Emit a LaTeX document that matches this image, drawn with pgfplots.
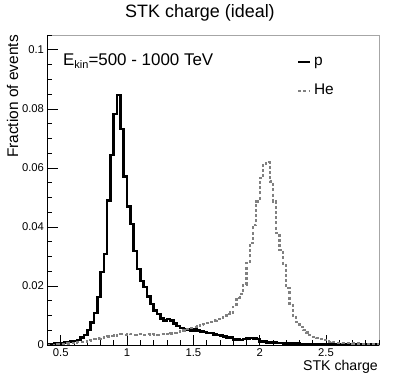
\documentclass[border=0pt]{standalone}
\usepackage{fontspec}
\setmainfont{Liberation Sans}
\usepackage{pgfplots}
\usepackage{pgfplotstable}
\pgfplotsset{compat=1.18}

% bin left edge, fraction (bins of 0.025)
\pgfplotstableread{
x y
0.400 0.0002
0.425 0.0004
0.450 0.0005
0.475 0.0006
0.500 0.0007
0.525 0.0009
0.550 0.0010
0.575 0.0011
0.600 0.0014
0.625 0.0017
0.650 0.0025
0.675 0.0034
0.700 0.0051
0.725 0.0077
0.750 0.0108
0.775 0.0162
0.800 0.0247
0.825 0.0308
0.850 0.0489
0.875 0.0644
0.900 0.0783
0.925 0.0847
0.950 0.0731
0.975 0.0571
1.000 0.0469
1.025 0.0410
1.050 0.0319
1.075 0.0258
1.100 0.0217
1.125 0.0197
1.150 0.0164
1.175 0.0139
1.200 0.0116
1.225 0.0105
1.250 0.0089
1.275 0.0083
1.300 0.0088
1.325 0.0082
1.350 0.0072
1.375 0.0065
1.400 0.0057
1.425 0.0053
1.450 0.0052
1.475 0.0049
1.500 0.0053
1.525 0.0050
1.550 0.0046
1.575 0.0044
1.600 0.0041
1.625 0.0040
1.650 0.0036
1.675 0.0034
1.700 0.0032
1.725 0.0029
1.750 0.0025
1.775 0.0026
1.800 0.0019
1.825 0.0018
1.850 0.0017
1.875 0.0020
1.900 0.0022
1.925 0.0024
1.950 0.0023
1.975 0.0020
2.000 0.0012
2.025 0.0011
2.050 0.0009
2.075 0.0009
2.100 0.0008
2.125 0.0007
2.150 0.0007
2.175 0.0006
2.200 0.0006
2.225 0.0005
2.250 0.0005
2.275 0.0005
2.300 0.0004
2.325 0.0004
2.350 0.0004
2.375 0.0004
2.400 0.0004
2.425 0.0003
2.450 0.0004
2.475 0.0003
2.500 0.0003
2.525 0.0003
2.550 0.0003
2.575 0.0003
2.600 0.0003
2.625 0.0003
2.650 0.0003
2.675 0.0003
2.700 0.0003
2.725 0.0003
2.750 0.0003
2.775 0.0003
2.800 0.0003
2.825 0.0003
2.850 0.0003
2.875 0.0003
2.900 0.0003
}\protondata

\pgfplotstableread{
x y
0.400 0.0000
0.425 0.0000
0.450 0.0001
0.475 0.0002
0.500 0.0003
0.525 0.0004
0.550 0.0005
0.575 0.0006
0.600 0.0008
0.625 0.0009
0.650 0.0010
0.675 0.0012
0.700 0.0014
0.725 0.0017
0.750 0.0020
0.775 0.0022
0.800 0.0025
0.825 0.0027
0.850 0.0029
0.875 0.0031
0.900 0.0032
0.925 0.0034
0.950 0.0036
0.975 0.0035
1.000 0.0037
1.025 0.0036
1.050 0.0035
1.075 0.0037
1.100 0.0036
1.125 0.0034
1.150 0.0036
1.175 0.0035
1.200 0.0037
1.225 0.0035
1.250 0.0036
1.275 0.0038
1.300 0.0036
1.325 0.0039
1.350 0.0041
1.375 0.0044
1.400 0.0046
1.425 0.0049
1.450 0.0054
1.475 0.0058
1.500 0.0061
1.525 0.0064
1.550 0.0068
1.575 0.0072
1.600 0.0075
1.625 0.0079
1.650 0.0083
1.675 0.0087
1.700 0.0092
1.725 0.0098
1.750 0.0105
1.775 0.0110
1.800 0.0130
1.825 0.0160
1.850 0.0172
1.875 0.0203
1.900 0.0277
1.925 0.0345
1.950 0.0407
1.975 0.0486
2.000 0.0566
2.025 0.0610
2.050 0.0621
2.075 0.0554
2.100 0.0486
2.125 0.0379
2.150 0.0322
2.175 0.0271
2.200 0.0192
2.225 0.0136
2.250 0.0100
2.275 0.0078
2.300 0.0062
2.325 0.0050
2.350 0.0042
2.375 0.0033
2.400 0.0028
2.425 0.0024
2.450 0.0019
2.475 0.0016
2.500 0.0013
2.525 0.0011
2.550 0.0010
2.575 0.0008
2.600 0.0008
2.625 0.0007
2.650 0.0006
2.675 0.0006
2.700 0.0005
2.725 0.0005
2.750 0.0004
2.775 0.0004
2.800 0.0004
2.825 0.0003
2.850 0.0003
2.875 0.0003
2.900 0.0003
}\heliumdata

\begin{document}
\begin{tikzpicture}
\useasboundingbox (-47.5bp,-43bp) rectangle (351.5bp,345bp);
\begin{axis}[
    at={(0,0)}, anchor=south west,
    scale only axis,
    width=331.5bp, height=310bp,
    xmin=0.4, xmax=2.9,
    ymin=0, ymax=0.105,
    xtick={0.5,1,1.5,2,2.5},
    xticklabels={0.5,1,1.5,2,2.5},
    ytick={0,0.02,0.04,0.06,0.08,0.1},
    yticklabels={0,0.02,0.04,0.06,0.08,0.1},
    minor x tick num=4,
    minor y tick num=3,
    extra x ticks={0.4,2.6,2.7,2.8,2.9},
    extra x tick labels={},
    extra x tick style={major tick length=5bp},
    extra y ticks={0.105},
    extra y tick labels={},
    extra y tick style={major tick length=5bp},
    tick align=inside,
    xtick pos=bottom, ytick pos=left,
    major tick length=10bp, minor tick length=5bp,
    tick style={black, line width=0.6bp},
    axis line style={gray!70, line width=0.8bp},
    ticklabel style={font=\fontsize{11.3}{13}\selectfont},
    /pgf/number format/assume math mode=true,
    clip=false,
    legend style={at={(0.743,0.9435)}, anchor=north west, draw=none, fill=none,
        font=\fontsize{15.5}{17}\selectfont, row sep=14.5bp,
        nodes={inner sep=0pt, text height=11bp, text depth=3.5bp},
        /tikz/every odd column/.append style={column sep=2.5bp}},
    legend cell align=left,
    legend image code/.code={\draw[#1] (0bp,0bp) -- (12bp,0bp);},
]
\addplot[const plot mark left, black, line width=2.6bp]
    table[x=x, y=y] {\protondata};
\addlegendentry{p}
\addplot[const plot mark left, gray, line width=2.2bp, dash pattern=on 3bp off 2.2bp]
    table[x=x, y=y] {\heliumdata};
\addlegendentry{He}
\draw[black, line width=0.8bp] (rel axis cs:0,1) -- (rel axis cs:0,0) -- (rel axis cs:1,0);
\end{axis}
\node[anchor=base] at (152.5bp,327bp) {\fontsize{18}{20}\selectfont STK charge (ideal)};
\node[anchor=base west, inner sep=0pt] at (15.5bp,279bp)
    {\fontsize{17}{19}\selectfont E\raisebox{-2.5bp}{\fontsize{11}{12}\selectfont kin}=500 - 1000 TeV};
\node[anchor=base east, inner sep=0pt] at (330.5bp,-25bp)
    {\fontsize{14.2}{16}\selectfont STK charge};
\node[anchor=base east, rotate=90, inner sep=0pt] at (-29.5bp,310bp)
    {\fontsize{15.5}{17}\selectfont Fraction of events};
\end{tikzpicture}
\end{document}
